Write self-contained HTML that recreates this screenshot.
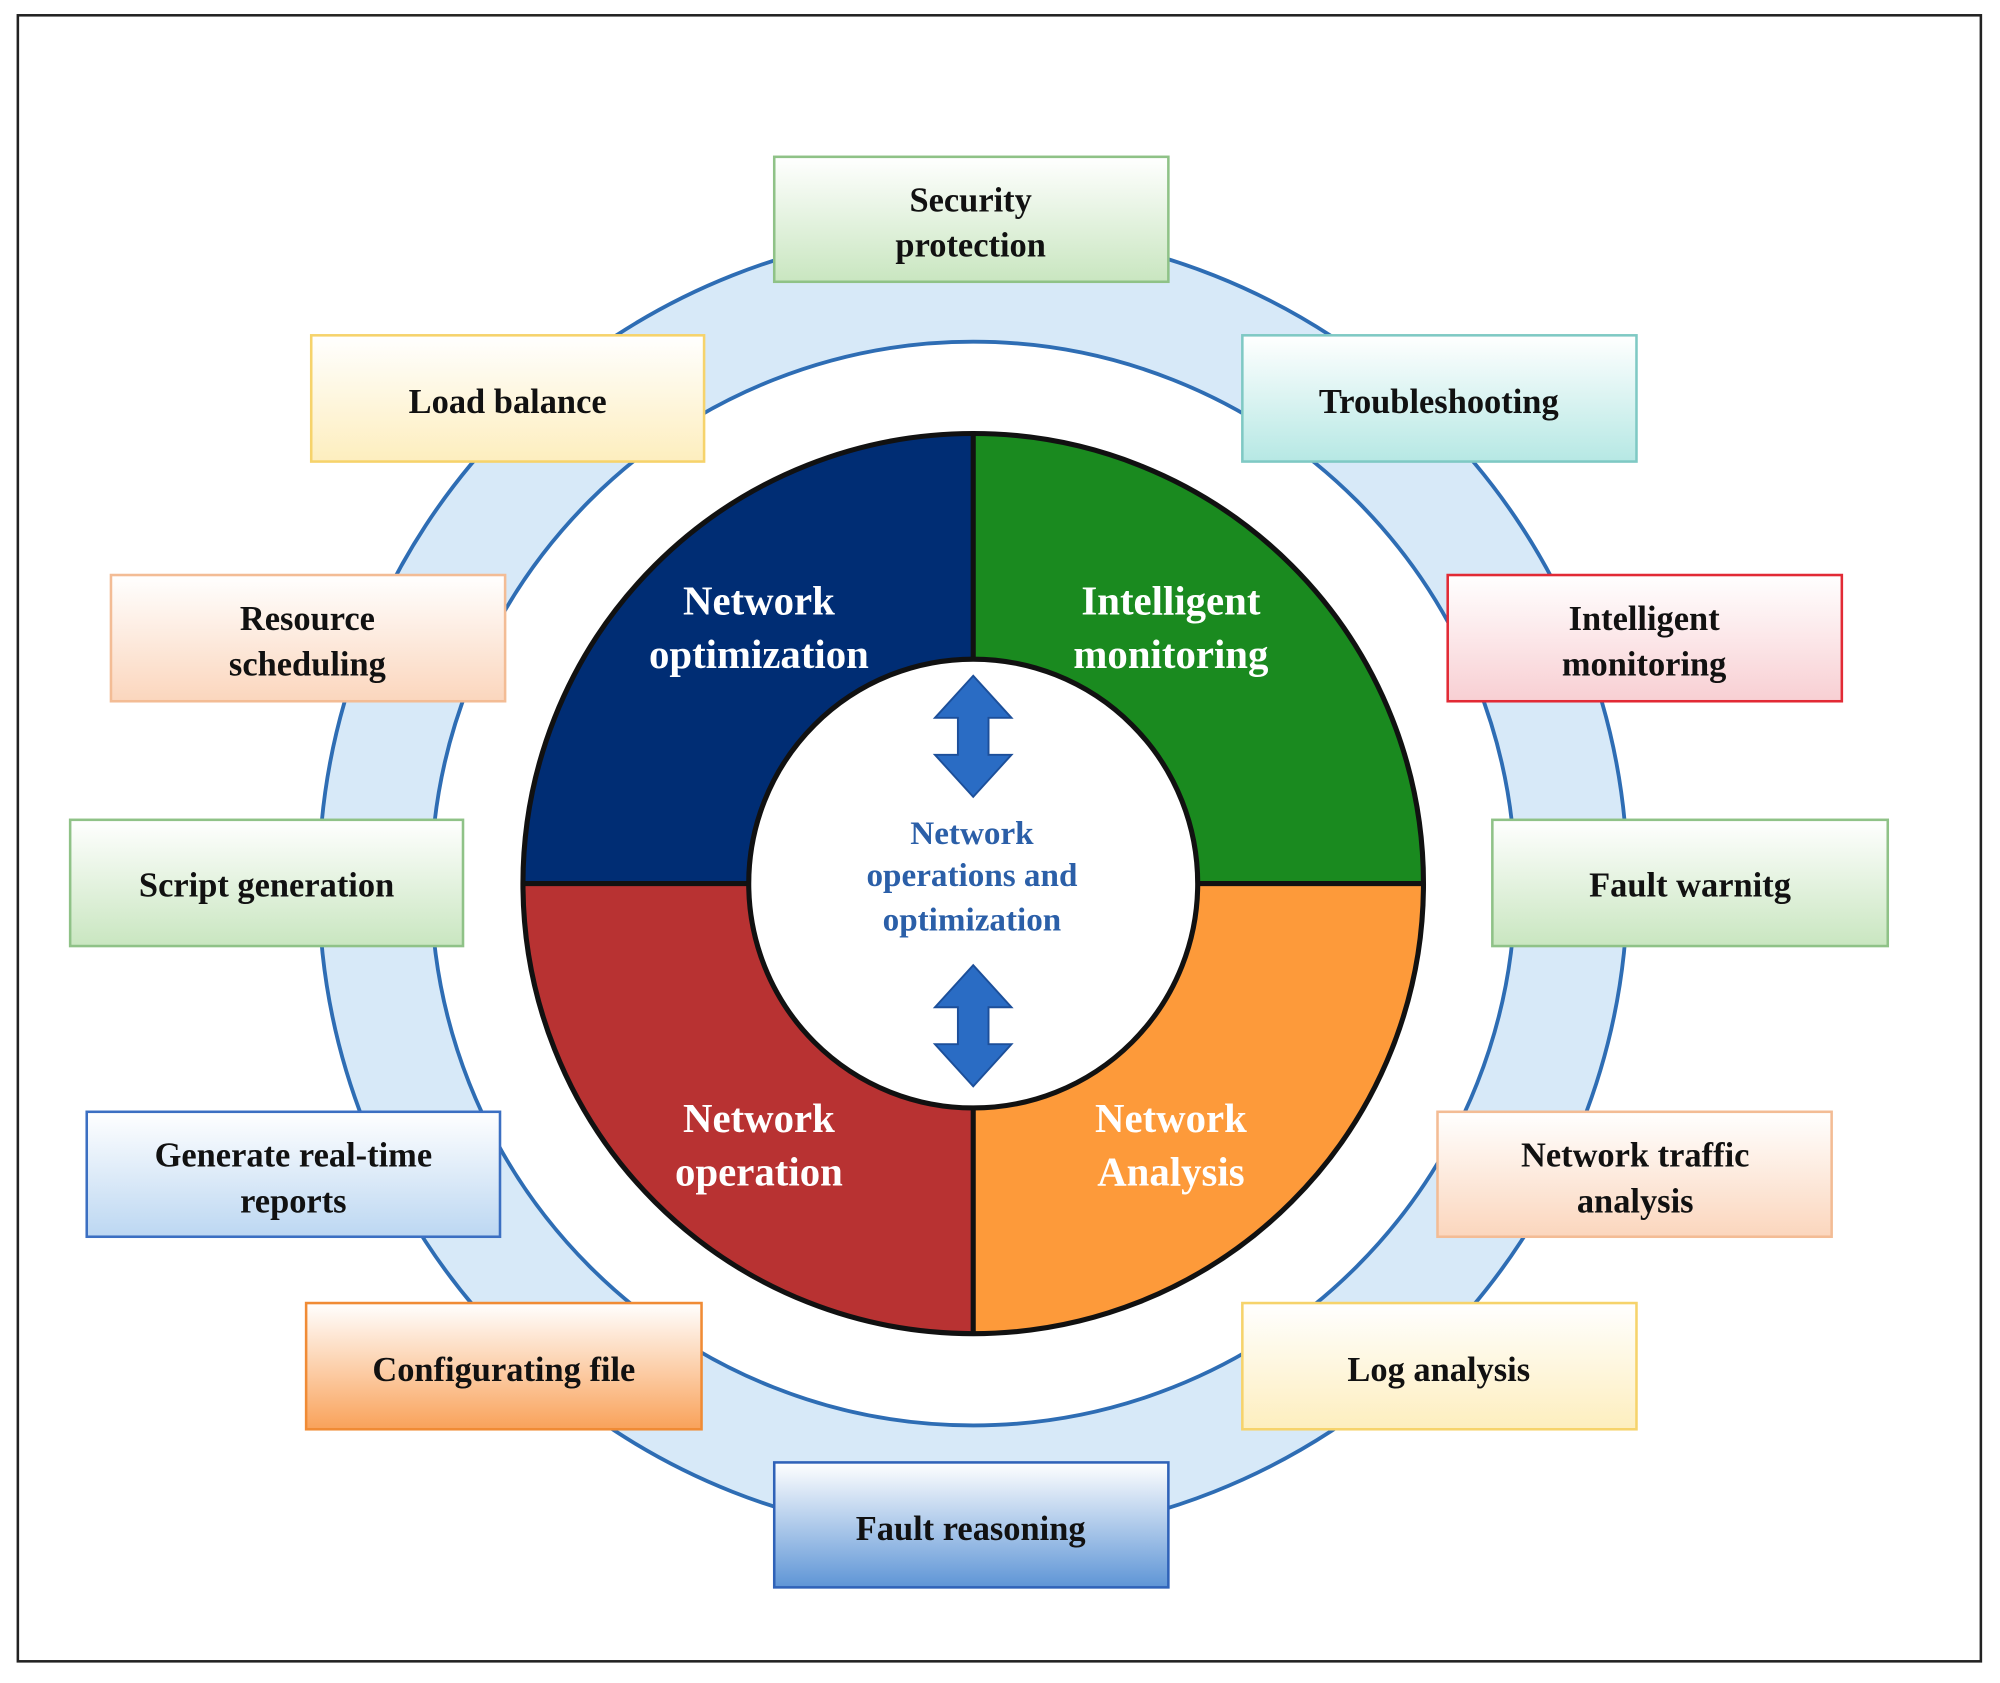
<!DOCTYPE html>
<html><head><meta charset="utf-8"><style>html,body{margin:0;padding:0;background:#fff}svg{display:block}</style></head><body>
<svg width="2000" height="1683" viewBox="0 0 1568 1320" preserveAspectRatio="none" xmlns="http://www.w3.org/2000/svg">
<defs>
<linearGradient id="gG" x1="0" y1="0" x2="0" y2="1"><stop offset="0" stop-color="#fff"/><stop offset="1" stop-color="#c9e6c0"/></linearGradient>
<linearGradient id="gY" x1="0" y1="0" x2="0" y2="1"><stop offset="0" stop-color="#fff"/><stop offset="1" stop-color="#fdeebe"/></linearGradient>
<linearGradient id="gT" x1="0" y1="0" x2="0" y2="1"><stop offset="0" stop-color="#fff"/><stop offset="1" stop-color="#b6e8e4"/></linearGradient>
<linearGradient id="gP" x1="0" y1="0" x2="0" y2="1"><stop offset="0" stop-color="#fff"/><stop offset="1" stop-color="#fbd6bd"/></linearGradient>
<linearGradient id="gR" x1="0" y1="0" x2="0" y2="1"><stop offset="0" stop-color="#fff"/><stop offset="1" stop-color="#f8cfd3"/></linearGradient>
<linearGradient id="gB" x1="0" y1="0" x2="0" y2="1"><stop offset="0" stop-color="#fff"/><stop offset="1" stop-color="#bcd7f2"/></linearGradient>
<linearGradient id="gO" x1="0" y1="0" x2="0" y2="1"><stop offset="0" stop-color="#fff"/><stop offset="1" stop-color="#f9a25a"/></linearGradient>
<linearGradient id="gB2" x1="0" y1="0" x2="0" y2="1"><stop offset="0" stop-color="#fff"/><stop offset="1" stop-color="#5e95d6"/></linearGradient>
</defs>
<rect x="14" y="12" width="1539" height="1291" fill="#fff" stroke="#222" stroke-width="2"/>
<circle cx="763" cy="693" r="469" fill="none" stroke="#d7e9f8" stroke-width="88"/>
<circle cx="763" cy="693" r="513" fill="none" stroke="#2e6db4" stroke-width="3"/>
<circle cx="763" cy="693" r="425" fill="none" stroke="#2e6db4" stroke-width="3"/>
<path d="M763 693 L763 340 A353 353 0 0 0 410 693 Z" fill="#002d74"/>
<path d="M763 693 L1116 693 A353 353 0 0 0 763 340 Z" fill="#1a8a1f"/>
<path d="M763 693 L410 693 A353 353 0 0 0 763 1046 Z" fill="#b83232"/>
<path d="M763 693 L763 1046 A353 353 0 0 0 1116 693 Z" fill="#fd9a3a"/>
<circle cx="763" cy="693" r="353" fill="none" stroke="#111" stroke-width="4"/>
<line x1="763" y1="340" x2="763" y2="1046" stroke="#111" stroke-width="4"/>
<line x1="410" y1="693" x2="1116" y2="693" stroke="#111" stroke-width="4"/>
<circle cx="763" cy="693" r="176" fill="#fff" stroke="#111" stroke-width="4"/>
<g fill="#2a6cc4" stroke="#1c4f9a" stroke-width="1.5">
<path d="M763 530 L793 563 L775 563 L775 592 L793 592 L763 625 L733 592 L751 592 L751 563 L733 563 Z"/>
<path d="M763 757 L793 790 L775 790 L775 819 L793 819 L763 852 L733 819 L751 819 L751 790 L733 790 Z"/>
</g>
<g font-family="Liberation Serif, serif" font-weight="bold" text-anchor="middle">
<g fill="#fff" font-size="32">
<text x="595" y="482">Network</text><text x="595" y="524">optimization</text>
<text x="918" y="482">Intelligent</text><text x="918" y="524">monitoring</text>
<text x="595" y="888">Network</text><text x="595" y="930">operation</text>
<text x="918" y="888">Network</text><text x="918" y="930">Analysis</text>
</g>
<g fill="#2b5fa8" font-size="26">
<text x="762" y="662">Network</text><text x="762" y="695">operations  and</text><text x="762" y="730">optimization</text>
</g>
<g font-size="27" fill="#111" stroke-width="2">
<rect x="607" y="123" width="309" height="98" fill="url(#gG)" stroke="#8fc287"/>
<text x="761" y="166">Security</text><text x="761" y="201">protection</text>
<rect x="244" y="263" width="308" height="99" fill="url(#gY)" stroke="#f6d36b"/>
<text x="398" y="324">Load balance</text>
<rect x="974" y="263" width="309" height="99" fill="url(#gT)" stroke="#7fc9c4"/>
<text x="1128" y="324">Troubleshooting</text>
<rect x="87" y="451" width="309" height="99" fill="url(#gP)" stroke="#f3bc95"/>
<text x="241" y="494">Resource</text><text x="241" y="530">scheduling</text>
<rect x="1135" y="451" width="309" height="99" fill="url(#gR)" stroke="#e22a35"/>
<text x="1289" y="494">Intelligent</text><text x="1289" y="530">monitoring</text>
<rect x="55" y="643" width="308" height="99" fill="url(#gG)" stroke="#8fc287"/>
<text x="209" y="703">Script generation</text>
<rect x="1170" y="643" width="310" height="99" fill="url(#gG)" stroke="#8fc287"/>
<text x="1325" y="703">Fault warnitg</text>
<rect x="68" y="872" width="324" height="98" fill="url(#gB)" stroke="#3b6fc2"/>
<text x="230" y="915">Generate real-time</text><text x="230" y="951">reports</text>
<rect x="1127" y="872" width="309" height="98" fill="url(#gP)" stroke="#f3bc95"/>
<text x="1282" y="915">Network traffic</text><text x="1282" y="951">analysis</text>
<rect x="240" y="1022" width="310" height="99" fill="url(#gO)" stroke="#f08b35"/>
<text x="395" y="1083">Configurating file</text>
<rect x="974" y="1022" width="309" height="99" fill="url(#gY)" stroke="#f6d36b"/>
<text x="1128" y="1083">Log analysis</text>
<rect x="607" y="1147" width="309" height="98" fill="url(#gB2)" stroke="#2f62b8"/>
<text x="761" y="1208">Fault reasoning</text>
</g>
</g>
</svg>
</body></html>
